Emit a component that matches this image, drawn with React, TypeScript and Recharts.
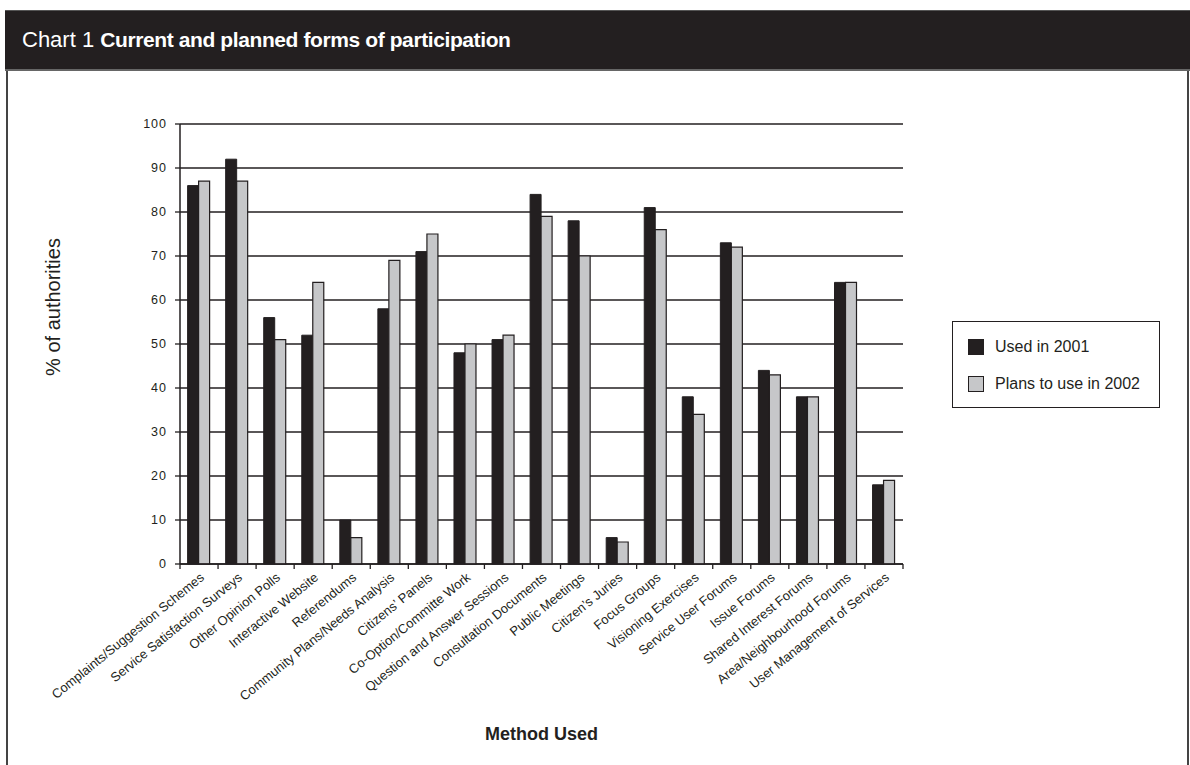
import { BarChart, Bar, XAxis, YAxis, CartesianGrid, Label } from 'recharts';

const categories = [
  'Complaints/Suggestion Schemes',
  'Service Satisfaction Surveys',
  'Other Opinion Polls',
  'Interactive Website',
  'Referendums',
  'Community Plans/Needs Analysis',
  'Citizens\u2019 Panels',
  'Co-Option/Committe Work',
  'Question and Answer Sessions',
  'Consultation Documents',
  'Public Meetings',
  'Citizen\u2019s Juries',
  'Focus Groups',
  'Visioning Exercises',
  'Service User Forums',
  'Issue Forums',
  'Shared Interest Forums',
  'Area/Neighbourhood Forums',
  'User Management of Services',
];

const used2001 = [86, 92, 56, 52, 10, 58, 71, 48, 51, 84, 78, 6, 81, 38, 73, 44, 38, 64, 18];
const plans2002 = [87, 87, 51, 64, 6, 69, 75, 50, 52, 79, 70, 5, 76, 34, 72, 43, 38, 64, 19];

const yTicks = [0, 10, 20, 30, 40, 50, 60, 70, 80, 90, 100];

const seriesNames = ['Used in 2001', 'Plans to use in 2002'];

const data = categories.map((name, i) => ({ name, used: used2001[i], plans: plans2002[i] }));

const INK = '#231f20';
const LIGHT = '#c6c7c9';
const FONT = '"Liberation Sans", Arial, Helvetica, sans-serif';

// chart svg sits at page top 71
const CHART_W = 1190;
const CHART_H = 694;
const PLOT_LEFT = 180;
const PLOT_RIGHT = 903;
const PLOT_TOP = 53;
const PLOT_BOTTOM = 493;
const BAND = (PLOT_RIGHT - PLOT_LEFT) / categories.length;

function CategoryTick({ x, payload, index }: any) {
  const last = index === categories.length - 1;
  const tx = x + 6;
  const ty = PLOT_BOTTOM + 15;
  return (
    <g>
      <line x1={x - BAND / 2} x2={x - BAND / 2} y1={PLOT_BOTTOM} y2={PLOT_BOTTOM + 5} stroke={INK} strokeWidth={1.3} />
      {last && (
        <line x1={x + BAND / 2} x2={x + BAND / 2} y1={PLOT_BOTTOM} y2={PLOT_BOTTOM + 5} stroke={INK} strokeWidth={1.3} />
      )}
      <text
        x={tx}
        y={ty}
        transform={`rotate(-39 ${tx} ${ty})`}
        textAnchor="end"
        fontSize={13}
        fill={INK}
        fontFamily={FONT}
      >
        {payload.value}
      </text>
    </g>
  );
}

function LegendBox() {
  const colors = [INK, LIGHT];
  return (
    <div
      style={{
        position: 'absolute',
        left: 952,
        top: 321,
        width: 208,
        height: 87,
        boxSizing: 'border-box',
        border: `1.5px solid ${INK}`,
        background: '#fff',
        fontFamily: FONT,
        fontSize: 16,
        color: INK,
      }}
    >
      {seriesNames.map((s, i) => (
        <div key={s} style={{ position: 'absolute', left: 15, top: 16 + i * 37, height: 18, display: 'flex', alignItems: 'center' }}>
          <div style={{ width: 16, height: 16, boxSizing: 'border-box', background: colors[i], border: `1.2px solid ${INK}` }} />
          <span style={{ marginLeft: 11, lineHeight: '18px' }}>{s}</span>
        </div>
      ))}
    </div>
  );
}

export default function App() {
  return (
    <div style={{ position: 'absolute', left: 0, top: 0, width: 1190, height: 765, background: '#fff', overflow: 'hidden' }}>
      <div
        style={{
          position: 'absolute',
          left: 5,
          top: 10,
          width: 1185,
          height: 61,
          background: INK,
          borderTop: '1px solid #555',
          borderBottom: '2px solid #666',
          boxSizing: 'border-box',
          color: '#fff',
          fontFamily: FONT,
          lineHeight: '58px',
          paddingLeft: 17,
          whiteSpace: 'nowrap',
        }}
      >
        <span style={{ fontSize: 22 }}>Chart 1 </span>
        <b style={{ fontSize: 21, letterSpacing: -0.4 }}>Current and planned forms of participation</b>
      </div>
      <div style={{ position: 'absolute', left: 6, top: 71, width: 2, height: 694, background: '#444' }} />
      <div style={{ position: 'absolute', left: 1187, top: 71, width: 2, height: 694, background: '#444' }} />

      <div style={{ position: 'absolute', left: 0, top: 71 }}>
        <BarChart
          width={CHART_W}
          height={CHART_H}
          data={data}
          margin={{ top: PLOT_TOP, right: CHART_W - PLOT_RIGHT, bottom: 0, left: PLOT_LEFT - 60 }}
          barCategoryGap="20%"
          barGap={0}
        >
          <CartesianGrid horizontal vertical={false} stroke={INK} strokeWidth={1.3} />
          <XAxis
            dataKey="name"
            height={CHART_H - PLOT_BOTTOM}
            interval={0}
            tickLine={false}
            axisLine={{ stroke: INK, strokeWidth: 1.5 }}
            tick={<CategoryTick />}
          >
            <Label
              content={() => (
                <text x={(PLOT_LEFT + PLOT_RIGHT) / 2} y={669} textAnchor="middle" fontSize={18} fontWeight="bold" fill={INK} fontFamily={FONT}>
                  Method Used
                </text>
              )}
            />
          </XAxis>
          <YAxis
            width={60}
            domain={[0, 100]}
            ticks={yTicks}
            interval={0}
            tickSize={5}
            tickMargin={8}
            tickLine={{ stroke: INK, strokeWidth: 1.3 }}
            axisLine={{ stroke: INK, strokeWidth: 1.5 }}
            tick={{ fill: INK, fontSize: 12.5, fontFamily: FONT, letterSpacing: 1 }}
          >
            <Label
              content={() => (
                <text
                  x={53}
                  y={236}
                  transform="rotate(-90 53 236)"
                  textAnchor="middle"
                  dominantBaseline="central"
                  fontSize={20}
                  fill={INK}
                  fontFamily={FONT}
                >
                  % of authorities
                </text>
              )}
            />
          </YAxis>
          <YAxis
            yAxisId="right"
            orientation="right"
            width={0}
            domain={[0, 100]}
            tick={false}
            tickLine={false}
            axisLine={{ stroke: INK, strokeWidth: 1.5 }}
          />
          <Bar dataKey="used" name={seriesNames[0]} fill={INK} stroke={INK} strokeWidth={1} isAnimationActive={false} />
          <Bar dataKey="plans" name={seriesNames[1]} fill={LIGHT} stroke={INK} strokeWidth={1.2} isAnimationActive={false} />
        </BarChart>
      </div>
      <LegendBox />
    </div>
  );
}
